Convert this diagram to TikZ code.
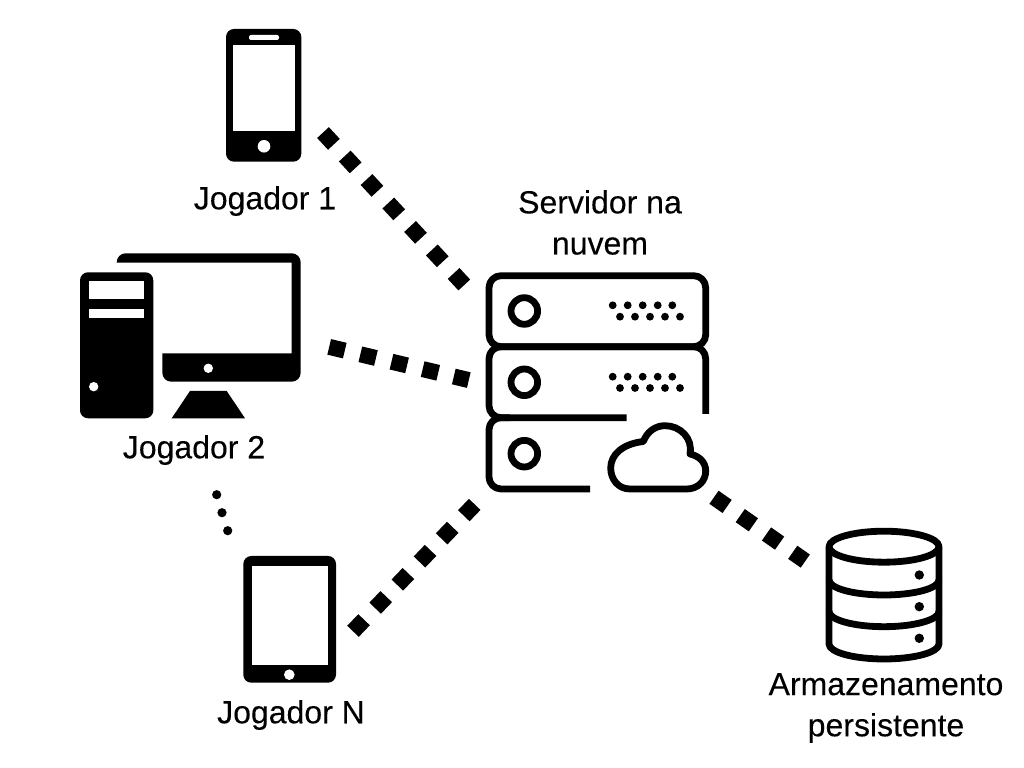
\documentclass[tikz,border=0pt]{standalone}
\usepackage{fontspec}
\setmainfont{Liberation Sans}
\newfontfamily\labelfont[FakeBold=0.2]{Liberation Sans}
\tikzset{
    link/.style={black, line width=1.6mm, dash pattern=on 1.6mm off 1.6mm},
    outline/.style={black, line width=0.68mm, line join=round},
    label/.style={align=center, inner sep=0pt, font=\labelfont\fontsize{9.1}{11.7}\selectfont},
    body/.style={fill=black, rounded corners=0.8mm}
}

\begin{document}
\begin{tikzpicture}[x=0.01cm, y=-0.01cm]
                \useasboundingbox (0,0) rectangle (1024,768);
                % telefone
                \fill[body] (226,29) rectangle (301.3,161.7);
                \fill[white] (233.3,45) rectangle (295,131);
                \fill[white, rounded corners=0.2mm] (249,35) rectangle (279,40);
                \fill[white] (264,146.3) circle (6.3);
                \node[label] (jog1) at (265,201) {Jogador 1};
                % computador
                \fill[black, rounded corners=0.9mm] (116.7,262.7) -- (116.7,253.3) -- (300.7,253.3) -- (300.7,381.7) -- (162.3,381.7) [sharp corners] -- (162.3,353.3) -- (291.7,353.3) -- (291.7,262.7) -- cycle;
                \fill[white] (208.3,368.3) circle (4.7);
                \fill[black] (190,391) -- (226.7,391) -- (245,418.3) -- (171.7,418.3) -- cycle;
                \fill[body] (80,272.3) rectangle (153.3,418.3);
                \fill[white] (89,281.3) rectangle (144,299.3);
                \fill[white] (89,308.7) rectangle (144,317.7);
                \fill[white] (93.7,386.7) circle (4.7);
                \node[label] (jog2) at (194,450) {Jogador 2};
                % reticencias
                \fill[black] (216.7,494.7) circle (4.6);
                \fill[black] (222,512.7) circle (4.6);
                \fill[black] (227.7,530.7) circle (4.6);
                % tablet
                \fill[body] (243.3,556) rectangle (336,682.7);
                \fill[white] (251.7,566) rectangle (327.7,665);
                \fill[white] (289.3,674.7) circle (5.3);
                \node[label] (jogN) at (291,715) {Jogador N};
                % servidor
                \node[label] (srv) at (600,222.5) {Servidor na\\nuvem};
                \draw[outline, rounded corners=1.2mm] (489,275.7) rectangle (705.7,346.7);
                \draw[outline, rounded corners=1.2mm] (705.7,414) -- (705.7,346.7) -- (489,346.7) -- (489,417.7) -- (626.7,417.7);
                \draw[outline, rounded corners=1.2mm] (510,417.7) -- (489,417.7) -- (489,489) -- (590,489);
                \draw[outline] (524.3,311) circle (13.3);
                \draw[outline] (524.3,382.3) circle (13.3);
                \draw[outline] (524.3,453.7) circle (13.3);
                \fill[black] (612.7,305.3) circle (3.9) (627.7,305.3) circle (3.9) (642.7,305.3) circle (3.9) (657.7,305.3) circle (3.9) (672.3,305.3) circle (3.9);
                \fill[black] (620,316.7) circle (3.9) (635,316.7) circle (3.9) (650,316.7) circle (3.9) (665,316.7) circle (3.9) (680,316.7) circle (3.9);
                \fill[black] (612.7,376.7) circle (3.9) (627.7,376.7) circle (3.9) (642.7,376.7) circle (3.9) (657.7,376.7) circle (3.9) (672.3,376.7) circle (3.9);
                \fill[black] (620,388) circle (3.9) (635,388) circle (3.9) (650,388) circle (3.9) (665,388) circle (3.9) (680,388) circle (3.9);
                % nuvem
                \draw[outline] (630,489) .. controls (618,489) and (610.7,479) .. (610.7,468) .. controls (610.7,455) and (622,444) .. (643.3,441.5) .. controls (647,432) and (655,425.7) .. (665,425.7) .. controls (680,425.7) and (693,438) .. (690,454) .. controls (699,456) and (705.7,462) .. (705.7,471) .. controls (705.7,481) and (698,489) .. (686.7,489) -- cycle;
                % banco de dados
                \draw[outline] (829,546.7) -- (829,644) .. controls (829,652.3) and (853.6,659) .. (884,659) .. controls (914.4,659) and (939,652.3) .. (939,644) -- (939,546.7);
                \draw[outline] (884,546.7) ellipse (55 and 15.5);
                \draw[outline] (829,580) .. controls (829,588.3) and (853.6,595) .. (884,595) .. controls (914.4,595) and (939,588.3) .. (939,580);
                \draw[outline] (829,611.5) .. controls (829,619.8) and (853.6,626.7) .. (884,626.7) .. controls (914.4,626.7) and (939,619.8) .. (939,611.5);
                \fill[black] (919.3,575) circle (4.7);
                \fill[black] (919.3,606.7) circle (4.7);
                \fill[black] (919.3,638.3) circle (4.7);
                \node[label] (store) at (886,708) {Armazenamento\\persistente};
                % ligacoes
                \coordinate (out1) at (323,132.6);
                \coordinate (in1) at (464.3,285);
                \coordinate (out2) at (329.2,346.9);
                \coordinate (in2) at (468.8,380.1);
                \coordinate (outN) at (353,631.3);
                \coordinate (inN) at (474.7,504.4);
                \coordinate (outS) at (714,497.3);
                \coordinate (inS) at (805.3,561.1);
                \draw[link] (out1) -- (in1);
                \draw[link] (out2) -- (in2);
                \draw[link] (outN) -- (inN);
                \draw[link] (outS) -- (inS);
            \end{tikzpicture}
\end{document}
